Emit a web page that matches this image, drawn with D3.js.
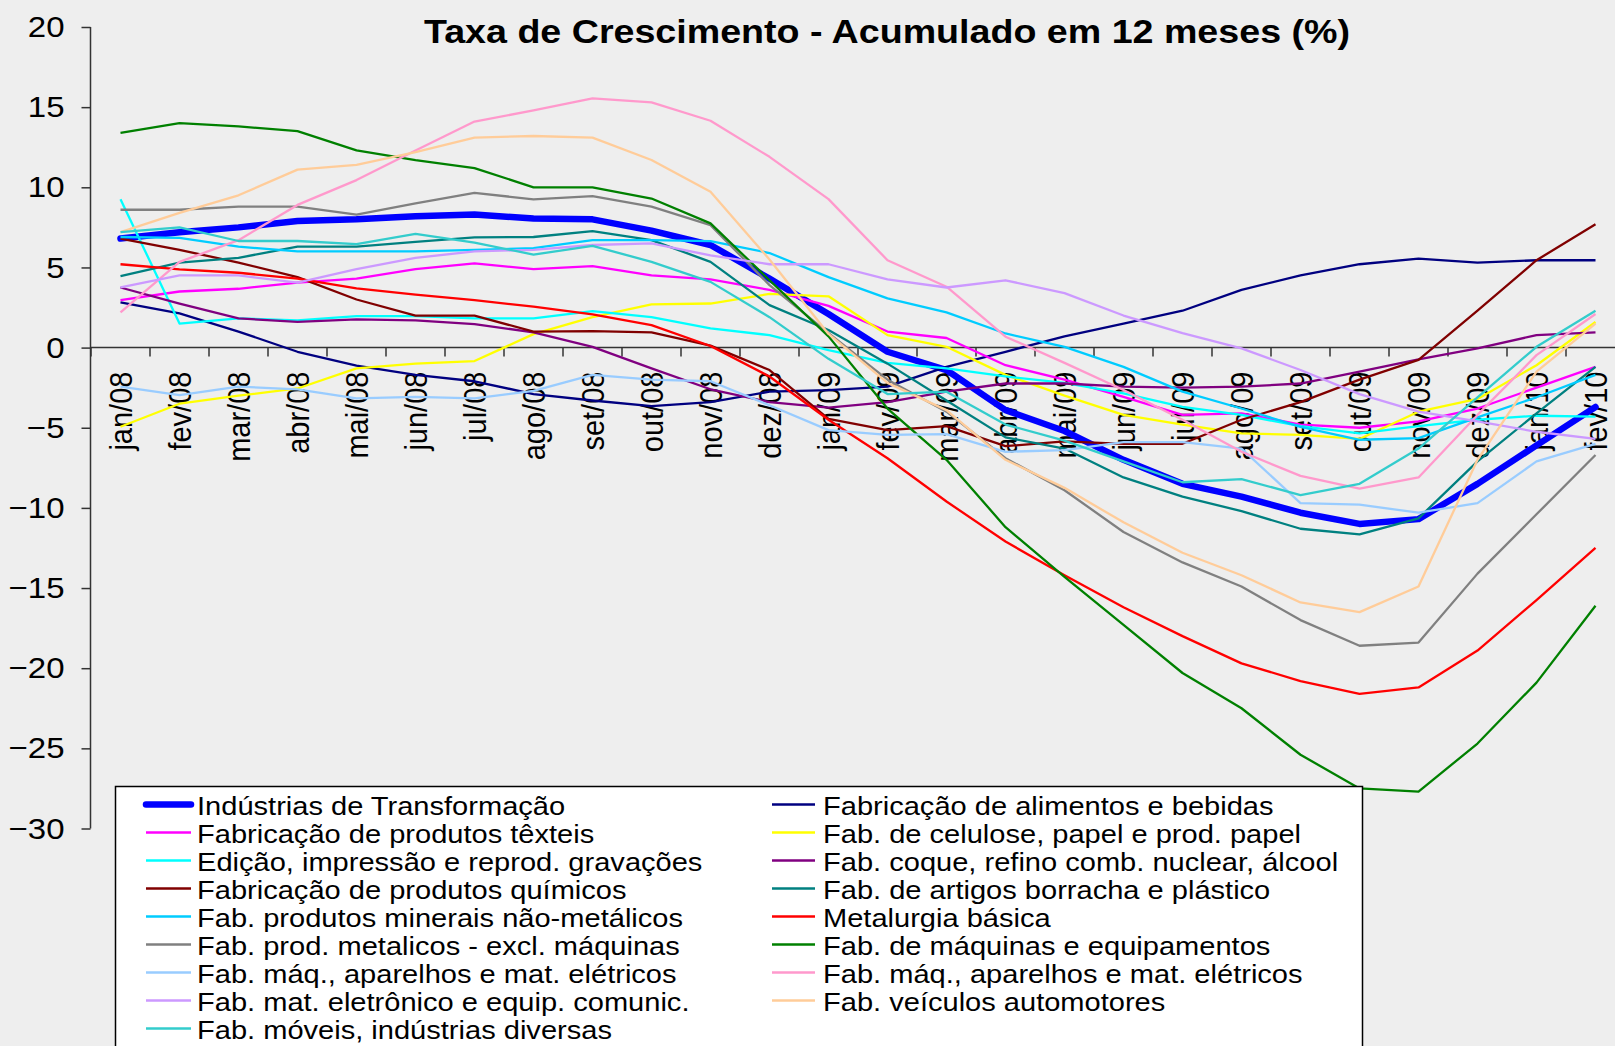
<!DOCTYPE html>
<html>
<head>
<meta charset="utf-8">
<script src="https://cdn.jsdelivr.net/npm/d3@7"></script>
<style>
  html, body { margin: 0; padding: 0; background: #eeeeee; overflow: hidden; }
  svg { display: block; font-family: "Liberation Sans", Arial, sans-serif; }
</style>
</head>
<body>
<svg id="chart" width="1615" height="1046"></svg>
<script>
// categories
const months = ['jan/08','fev/08','mar/08','abr/08','mai/08','jun/08','jul/08','ago/08','set/08','out/08','nov/08','dez/08',
  'jan/09','fev/09','mar/09','abr/09','mai/09','jun/09','jul/09','ago/09','set/09','out/09','nov/09','dez/09','jan/10','fev/10'];
const yTicks = [20, 15, 10, 5, 0, -5, -10, -15, -20, -25, -30];

// series values (% acumulado em 12 meses)
const industria  = [6.8, 7.2, 7.5, 7.9, 8.0, 8.2, 8.3, 8.05, 8.0, 7.3, 6.4, 4.3, 2.1, -0.26, -1.4, -3.9, -5.2, -7.0, -8.5, -9.3, -10.3, -11.0, -10.7, -8.5, -6.1, -3.7];
const alimentos  = [2.82, 2.13, 1.0, -0.26, -1.12, -1.7, -2.1, -2.9, -3.3, -3.65, -3.4, -2.75, -2.65, -2.44, -1.2, -0.26, 0.7, 1.5, 2.3, 3.6, 4.5, 5.2, 5.55, 5.3, 5.45, 5.45];
const texteis    = [2.96, 3.5, 3.67, 4.05, 4.3, 4.9, 5.25, 4.9, 5.08, 4.5, 4.25, 3.6, 2.6, 1.0, 0.6, -1.1, -2.0, -3.07, -4.2, -4.1, -4.8, -5.0, -4.6, -3.8, -2.5, -1.2];
const celulose   = [-4.94, -3.5, -3.0, -2.55, -1.3, -1.0, -0.84, 0.84, 1.9, 2.7, 2.75, 3.35, 3.2, 0.78, 0.05, -1.7, -3.0, -4.2, -4.8, -5.35, -5.45, -5.7, -4.0, -3.2, -1.1, 1.6];
const edicao     = [9.26, 1.5, 1.82, 1.7, 1.96, 1.96, 1.82, 1.82, 2.28, 1.9, 1.2, 0.78, -0.16, -0.95, -1.3, -1.8, -2.2, -2.86, -3.7, -4.2, -4.9, -5.35, -4.9, -4.5, -4.25, -4.3];
const coque      = [3.75, 2.75, 1.82, 1.6, 1.76, 1.7, 1.47, 0.95, 0.05, -1.3, -2.6, -3.4, -3.75, -3.4, -2.75, -2.24, -2.24, -2.44, -2.5, -2.44, -2.24, -1.5, -0.74, -0.05, 0.78, 0.95];
const quimicos   = [6.8, 6.1, 5.3, 4.4, 3.0, 2.0, 2.0, 1.0, 1.03, 0.95, 0.12, -1.4, -4.45, -5.15, -4.9, -6.15, -5.85, -6.0, -6.0, -4.5, -3.4, -2.0, -0.77, 2.3, 5.45, 7.7];
const borracha   = [4.46, 5.3, 5.6, 6.3, 6.3, 6.6, 6.87, 6.9, 7.27, 6.7, 5.35, 2.65, 1.1, -1.0, -3.3, -5.6, -6.3, -8.1, -9.3, -10.2, -11.3, -11.65, -10.65, -7.1, -4.1, -1.2];
const minerais   = [6.9, 6.85, 6.3, 6.0, 6.0, 6.0, 6.1, 6.2, 6.7, 6.7, 6.64, 5.9, 4.4, 3.07, 2.2, 0.88, 0.05, -1.2, -2.75, -3.8, -4.95, -5.75, -5.65, -4.35, -3.1, -1.7];
const metalurgia = [5.2, 4.88, 4.67, 4.3, 3.7, 3.3, 2.96, 2.55, 2.07, 1.4, 0.1, -1.8, -4.5, -6.9, -9.6, -12.1, -14.2, -16.2, -18.0, -19.7, -20.8, -21.6, -21.2, -18.9, -15.75, -12.5];
const metalicos  = [8.6, 8.6, 8.8, 8.8, 8.3, 9.0, 9.65, 9.25, 9.45, 8.8, 7.64, 3.9, 0.9, -2.0, -4.0, -6.9, -8.9, -11.5, -13.4, -14.9, -17.0, -18.6, -18.4, -14.1, -10.4, -6.7];
const maquinas   = [13.4, 14.0, 13.8, 13.5, 12.3, 11.7, 11.2, 10.0, 10.0, 9.3, 7.75, 4.2, 0.7, -3.8, -7.0, -11.2, -14.3, -17.3, -20.3, -22.5, -25.4, -27.5, -27.7, -24.7, -20.9, -16.1];
const eletricos  = [-2.44, -2.96, -2.44, -2.6, -3.17, -3.07, -3.17, -2.7, -1.7, -2.0, -2.1, -3.6, -5.15, -5.45, -5.4, -6.5, -6.4, -5.9, -5.9, -6.3, -9.7, -9.8, -10.3, -9.7, -7.1, -6.0];
const aparelhos  = [2.2, 5.35, 6.7, 8.9, 10.45, 12.3, 14.1, 14.8, 15.55, 15.3, 14.15, 11.9, 9.26, 5.45, 3.8, 0.68, -0.95, -2.65, -4.5, -6.5, -8.0, -8.8, -8.1, -4.2, -0.47, 2.1];
const eletronico = [3.75, 4.5, 4.5, 4.05, 4.9, 5.6, 6.0, 6.1, 6.4, 6.5, 5.75, 5.2, 5.2, 4.25, 3.75, 4.2, 3.4, 2.0, 0.9, -0.05, -1.4, -2.9, -4.0, -4.6, -5.25, -5.7];
const veiculos   = [7.2, 8.4, 9.5, 11.1, 11.4, 12.2, 13.1, 13.2, 13.1, 11.7, 9.72, 5.5, 0.85, -2.2, -3.9, -7.0, -8.75, -10.9, -12.8, -14.2, -15.9, -16.5, -14.9, -7.0, -1.5, 1.5];
const moveis     = [7.2, 7.5, 6.65, 6.65, 6.45, 7.1, 6.55, 5.8, 6.35, 5.35, 4.1, 1.9, -0.7, -2.9, -2.75, -4.8, -5.8, -7.1, -8.4, -8.2, -9.2, -8.5, -6.3, -3.1, 0.05, 2.3];

// series in the order the legend lists them (row by row, two columns)
const names = ['Indústrias de Transformação', 'Fabricação de alimentos e bebidas',
  'Fabricação de produtos têxteis', 'Fab. de celulose, papel e prod. papel',
  'Edição, impressão e reprod. gravações', 'Fab. coque, refino comb. nuclear, álcool',
  'Fabricação de produtos químicos', 'Fab. de artigos borracha e plástico',
  'Fab. produtos minerais não-metálicos', 'Metalurgia básica',
  'Fab. prod. metalicos - excl. máquinas', 'Fab. de máquinas e equipamentos',
  'Fab. máq., aparelhos e mat. elétricos', 'Fab. máq., aparelhos e mat. elétricos',
  'Fab. mat. eletrônico e equip. comunic.', 'Fab. veículos automotores',
  'Fab. móveis, indústrias diversas'];
const values = [industria, alimentos, texteis, celulose, edicao, coque, quimicos, borracha,
  minerais, metalurgia, metalicos, maquinas, eletricos, aparelhos, eletronico, veiculos, moveis];
const colors = ['#0000ff', '#000080', '#ff00ff', '#ffff00', '#00ffff', '#800080', '#800000', '#008080',
  '#00ccff', '#ff0000', '#808080', '#008000', '#99ccff', '#ff99cc', '#cc99ff', '#ffcc99', '#33cccc'];

const svg = d3.select('#chart');
const W = 1615, H = 1046;

// stretch text a bit wider, the original picture is wide-ish
function stretch(sel, k) {
  sel.each(function () {
    const w = this.getComputedTextLength();
    d3.select(this).attr('textLength', w * k).attr('lengthAdjust', 'spacingAndGlyphs');
  });
}

svg.append('rect').attr('width', W).attr('height', H).attr('fill', '#eeeeee');

const x = d3.scaleBand().domain(months).range([91, 91 + 59 * months.length]).padding(0);
const y = d3.scaleLinear().domain([-30, 20]).range([828.5, 27]);
const cx = m => x(m) + x.bandwidth() / 2;

// y axis
const yAxis = svg.append('g')
  .attr('transform', 'translate(90.5,0)')
  .call(d3.axisLeft(y).tickValues(yTicks).tickSize(9).tickPadding(17).tickFormat(d3.format('d')));
yAxis.select('.domain').attr('stroke', '#333').attr('stroke-width', 1.5).attr('d', `M0,${y(20)}V${y(-30)}`);
yAxis.selectAll('.tick line').attr('stroke', '#333').attr('stroke-width', 1.5);
yAxis.selectAll('.tick text')
  .attr('font-size', 30).attr('fill', '#000').attr('font-family', '"Liberation Sans", Arial, sans-serif')
  .call(stretch, 1.1);

// x axis at zero, ticks between categories
const y0 = y(0);
const xAxis = svg.append('g').attr('transform', `translate(0,${y0})`)
  .call(d3.axisBottom(x).tickSize(0).tickPadding(0));
xAxis.select('.domain').attr('stroke', '#333').attr('stroke-width', 1.5).attr('d', `M${x.range()[0]},0H${W + 20}`);
xAxis.selectAll('.tick text')
  .attr('font-size', 29).attr('fill', '#000').attr('font-family', '"Liberation Sans", Arial, sans-serif')
  .attr('text-anchor', 'end')
  .attr('transform', 'translate(0,24) rotate(-90) scale(1,1.1)')
  .attr('x', 0).attr('y', 0).attr('dy', '0.35em');
svg.append('g').selectAll('line')
  .data(months.map(m => x(m)).concat([x.range()[1]]))
  .join('line')
  .attr('x1', d => d).attr('x2', d => d)
  .attr('y1', y0).attr('y2', y0 + 9)
  .attr('stroke', '#333').attr('stroke-width', 1.5);

// lines
const line = d3.line().x((d, i) => cx(months[i])).y(d => y(d));
svg.append('g').selectAll('path')
  .data(values)
  .join('path')
  .attr('d', d => line(d))
  .attr('fill', 'none')
  .attr('stroke', (d, i) => colors[i])
  .attr('stroke-width', (d, i) => i === 0 ? 6.5 : 2.3)
  .attr('stroke-linejoin', 'round')
  .attr('stroke-linecap', (d, i) => i === 0 ? 'round' : 'butt');

// title
svg.append('text')
  .attr('x', 887).attr('y', 42.5)
  .attr('text-anchor', 'middle')
  .attr('font-size', 34).attr('font-weight', 'bold')
  .text('Taxa de Crescimento - Acumulado em 12 meses (%)')
  .attr('textLength', 926).attr('lengthAdjust', 'spacingAndGlyphs');

// legend
const leg = svg.append('g');
leg.append('rect')
  .attr('x', 115.5).attr('y', 786.5).attr('width', 1247).attr('height', 300)
  .attr('fill', '#fff').attr('stroke', '#000').attr('stroke-width', 1.5);
const colX = [{ l1: 146, l2: 191, t: 197 }, { l1: 772, l2: 815, t: 823 }];
names.forEach((n, i) => {
  const c = colX[i % 2];
  const base = 815 + 28 * Math.floor(i / 2);
  leg.append('line')
    .attr('x1', c.l1).attr('x2', c.l2)
    .attr('y1', base - 10.5).attr('y2', base - 10.5)
    .attr('stroke', colors[i])
    .attr('stroke-width', i === 0 ? 6.5 : 2.3)
    .attr('stroke-linecap', i === 0 ? 'round' : 'butt');
  leg.append('text')
    .attr('x', c.t).attr('y', base)
    .attr('font-size', 25.6)
    .text(n)
    .call(stretch, 1.135);
});
</script>
</body>
</html>
